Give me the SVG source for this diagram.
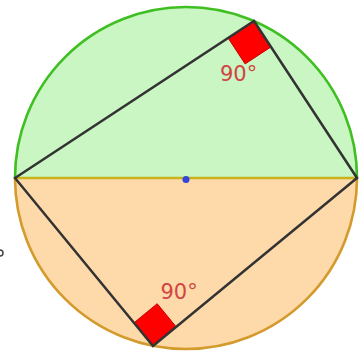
<svg xmlns="http://www.w3.org/2000/svg" width="359" height="353" viewBox="0 0 359 353">
<style>
.edge{stroke:#333;stroke-width:2.5;fill:none;stroke-linecap:round}
.sq{fill:#ff0000;stroke:#cc0000;stroke-width:1;stroke-linejoin:round}
.lbl{font-family:"DejaVu Sans",sans-serif;font-size:21px;fill:#d24444}
</style>
<rect width="359" height="353" fill="#ffffff"/>
<g id="upper-half">
<path d="M15,178 A171,171 0 0 1 357,178 Z" fill="#c9f6c2"/>
<path d="M15,178 A171,171 0 0 1 357,178" fill="none" stroke="#3fbf22" stroke-width="2.6"/>
</g>
<g id="lower-half">
<path d="M15,178 A171,171 0 0 0 357,178 Z" fill="#fed9a9"/>
<path d="M15,178 A171,171 0 0 0 357,178" fill="none" stroke="#d39a2c" stroke-width="2.6"/>
</g>
<g id="right-angle-top">
<polygon class="sq" points="254,21 228.1,38 245.1,63.9 271,46.9"/>
<text class="lbl" x="220" y="80.5">90°</text>
</g>
<g id="right-angle-bottom">
<polygon class="sq" points="153,346 134,322.8 157.2,303.7 176.2,326.9"/>
<text class="lbl" x="160.5" y="298.5">90°</text>
</g>
<g id="connectors">
<line x1="15" y1="178" x2="357" y2="178" stroke="#c8b21e" stroke-width="2.5"/>
<polyline class="edge" points="15,178 254,21 357,178"/>
<polyline class="edge" points="15,178 153,346 357,178"/>
</g>
<g id="center">
<circle cx="186" cy="179.5" r="3.5" fill="#3344dd"/>
</g>
<path d="M0,250 A3,3 0 0 1 0,256" fill="none" stroke="#444" stroke-width="1.5"/>
</svg>
